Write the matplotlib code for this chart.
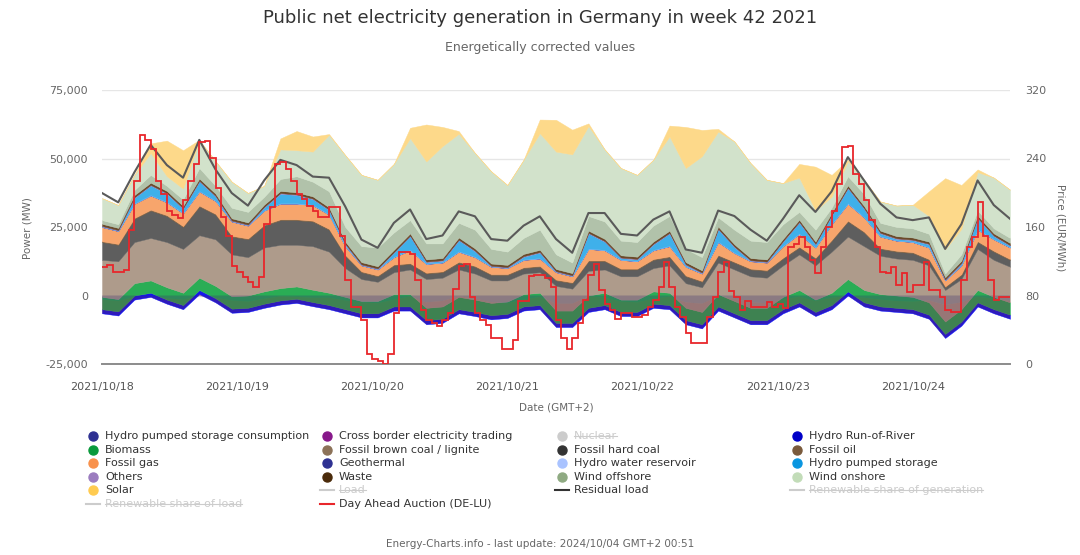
import numpy as np
import matplotlib
matplotlib.use("Agg")
import matplotlib.pyplot as plt
from matplotlib.lines import Line2D

# 3-hourly samples, 2021/10/18 00:00 .. 2021/10/25 00:00 (GMT+2), values in MW
hours = np.arange(0, 169, 3)

pumped_consumption = [
    -1500, -2000, -500, -300, -1000, -1500, -200, -800,
    -1800, -2200, -1200, -300, -500, -800, -800, -1800,
    -2500, -2800, -1500, -300, -2500, -2000, -300, -1000,
    -2500, -2800, -1500, -500, -3000, -3000, -300, -800,
    -2200, -2500, -1200, -400, -2500, -3000, -400, -1200,
    -2500, -2800, -1500, -400, -2000, -800, -200, -800,
    -1500, -2000, -2200, -1800, -3500, -2500, -400, -1200,
    -2000]
cross_border = [
    -5000, -5300, -1000, -200, -2000, -3500, 700, -1700,
    -4500, -3800, -3300, -3000, -2200, -3100, -4200, -4700,
    -5500, -5200, -4000, -5200, -8000, -8000, -6200, -6500,
    -6200, -5400, -4000, -4500, -8500, -8500, -5700, -4200,
    -5300, -5000, -3300, -4600, -8000, -9000, -5100, -6800,
    -8000, -7700, -5000, -3600, -5500, -4200, 200, -3200,
    -4000, -4000, -4300, -6700, -12000, -8500, -3600, -5300,
    -6500]
run_of_river = [
    1500, 1500, 1500, 1500, 1500, 1500, 1500, 1500,
    1500, 1500, 1500, 1500, 1500, 1500, 1500, 1500,
    1500, 1500, 1500, 1500, 1500, 1500, 1500, 1500,
    1500, 1500, 1500, 1500, 1500, 1500, 1500, 1500,
    1500, 1500, 1500, 1500, 1500, 1500, 1500, 1500,
    1500, 1500, 1500, 1500, 1500, 1500, 1500, 1500,
    1500, 1500, 1500, 1500, 1500, 1500, 1500, 1500,
    1500]
biomass = [
    4500, 4500, 4500, 4500, 4500, 4500, 4500, 4500,
    4500, 4500, 4500, 4500, 4500, 4500, 4500, 4500,
    4500, 4500, 4500, 4500, 4500, 4500, 4500, 4500,
    4500, 4500, 4500, 4500, 4500, 4500, 4500, 4500,
    4500, 4500, 4500, 4500, 4500, 4500, 4500, 4500,
    4500, 4500, 4500, 4500, 4500, 4500, 4500, 4500,
    4500, 4500, 4500, 4500, 4500, 4500, 4500, 4500,
    4500]
brown_coal = [
    13500, 13800, 15000, 15500, 16500, 16000, 15500, 17000,
    15300, 14000, 16000, 15800, 15200, 15900, 15000, 10500,
    8000, 7000, 8000, 9000, 10500, 10500, 10000, 9500,
    8200, 7700, 7500, 7500, 9000, 8000, 9000, 8500,
    8500, 8500, 8500, 10000, 9000, 9000, 11500, 11500,
    11500, 11000, 11500, 13000, 12500, 15000, 15500, 16000,
    14000, 13500, 13500, 13500, 11500, 11000, 15000, 13500,
    13000]
hard_coal = [
    6500, 6000, 8500, 10000, 9500, 8000, 10500, 9000,
    6500, 6500, 8000, 9000, 9000, 9000, 8000, 4500,
    2500, 2000, 2500, 2000, 2000, 2000, 2500, 2500,
    2000, 2000, 2000, 2000, 2000, 2000, 3500, 3000,
    2500, 2500, 3000, 3000, 2500, 2000, 2500, 2500,
    2500, 2500, 2500, 2500, 2500, 4000, 5500, 5000,
    2500, 2500, 2500, 2000, 1000, 1500, 2500, 3000,
    2500]
oil = [
    300, 300, 300, 300, 300, 300, 300, 300,
    300, 300, 300, 300, 300, 300, 300, 300,
    300, 300, 300, 300, 300, 300, 300, 300,
    300, 300, 300, 300, 300, 300, 300, 300,
    300, 300, 300, 300, 300, 300, 300, 300,
    300, 300, 300, 300, 300, 300, 300, 300,
    300, 300, 300, 300, 300, 300, 300, 300,
    300]
gas = [
    5200, 4700, 5200, 5200, 4700, 4700, 5200, 4700,
    5200, 4700, 5200, 5700, 5700, 5700, 5200, 3200,
    2200, 2200, 2700, 4700, 3200, 3200, 3700, 3200,
    2700, 2200, 2700, 2700, 2700, 2200, 4200, 3700,
    3200, 2700, 3200, 3700, 3200, 2700, 4700, 3200,
    2700, 2700, 4200, 4700, 3700, 5700, 6200, 5200,
    4200, 3700, 3700, 4200, 2200, 3200, 4200, 4200,
    4200]
geothermal = [
    20, 20, 20, 20, 20, 20, 20, 20,
    20, 20, 20, 20, 20, 20, 20, 20,
    20, 20, 20, 20, 20, 20, 20, 20,
    20, 20, 20, 20, 20, 20, 20, 20,
    20, 20, 20, 20, 20, 20, 20, 20,
    20, 20, 20, 20, 20, 20, 20, 20,
    20, 20, 20, 20, 20, 20, 20, 20,
    20]
water_reservoir = [
    150, 150, 150, 150, 150, 150, 150, 150,
    150, 150, 150, 150, 150, 150, 150, 150,
    150, 150, 150, 150, 150, 150, 150, 150,
    150, 150, 150, 150, 150, 150, 150, 150,
    150, 150, 150, 150, 150, 150, 150, 150,
    150, 150, 150, 150, 150, 150, 150, 150,
    150, 150, 150, 150, 150, 150, 150, 150,
    150]
pumped_storage = [
    0, 0, 2000, 3500, 3000, 1500, 3500, 1500,
    0, 0, 1000, 3500, 3000, 2000, 1500, 500,
    0, 0, 1500, 5000, 500, 500, 4000, 2000,
    0, 0, 1000, 2000, 0, 0, 5500, 3000,
    500, 500, 2000, 4500, 500, 0, 4500, 2000,
    0, 0, 1500, 4000, 1000, 3000, 5500, 3000,
    1000, 500, 500, 1000, 0, 500, 4000, 1000,
    500]
others = [
    200, 200, 200, 200, 200, 200, 200, 200,
    200, 200, 200, 200, 200, 200, 200, 200,
    200, 200, 200, 200, 200, 200, 200, 200,
    200, 200, 200, 200, 200, 200, 200, 200,
    200, 200, 200, 200, 200, 200, 200, 200,
    200, 200, 200, 200, 200, 200, 200, 200,
    200, 200, 200, 200, 200, 200, 200, 200,
    200]
waste = [
    800, 800, 800, 800, 800, 800, 800, 800,
    800, 800, 800, 800, 800, 800, 800, 800,
    800, 800, 800, 800, 800, 800, 800, 800,
    800, 800, 800, 800, 800, 800, 800, 800,
    800, 800, 800, 800, 800, 800, 800, 800,
    800, 800, 800, 800, 800, 800, 800, 800,
    800, 800, 800, 800, 800, 800, 800, 800,
    800]
wind_offshore = [
    1350, 1350, 1850, 2850, 1850, 2350, 3850, 2850,
    3850, 3850, 2850, 4350, 5850, 5350, 5850, 5350,
    5850, 6850, 6350, 4850, 5850, 5350, 5350, 6850,
    5350, 4850, 5850, 7350, 5350, 3850, 5350, 6350,
    5350, 5350, 5850, 5350, 4850, 4850, 3350, 5350,
    6350, 6350, 5350, 2850, 4350, 1850, 3350, 4350,
    2850, 3350, 3350, 2850, 1350, 2350, 1850, 1850,
    1850]
wind_onshore = [
    8000, 7000, 5500, 8000, 3500, 4000, 10000, 9000,
    9500, 6900, 4000, 10800, 9500, 11000, 20600, 26200,
    26000, 24700, 25000, 29900, 29900, 35500, 32500, 28000,
    28300, 24300, 28500, 35200, 37500, 39500, 32800, 26300,
    26500, 24500, 24000, 29000, 29500, 36800, 31300, 32200,
    28300, 22700, 15000, 12500, 7000, 4000, 5500, 5200,
    7800, 7800, 8600, 6500, 8800, 9300, 14000, 18500,
    17600]
solar = [
    0, 0, 0, 3500, 13000, 14000, 300, 0,
    0, 0, 0, 4000, 7000, 5500, 300, 0,
    0, 0, 0, 3800, 13500, 7000, 1000, 0,
    0, 0, 0, 5000, 11600, 9000, 1000, 0,
    0, 0, 0, 4000, 15000, 9600, 1000, 0,
    0, 0, 0, 5000, 16000, 8000, 500, 0,
    0, 0, 0, 9000, 26000, 16000, 1000, 0,
    0]
residual_load = [
    37400, 34000, 45000, 55000, 47600, 43000, 56800, 46000,
    37400, 32800, 42000, 49500, 47600, 43400, 43000, 32500,
    20400, 17400, 26500, 31400, 20600, 21900, 30700, 28900,
    20600, 20000, 25500, 28900, 20600, 15600, 30100, 30100,
    22500, 21900, 27700, 30700, 16800, 15600, 31000, 29000,
    24000, 20000, 28000, 36600, 30500, 38000, 50500, 42000,
    33500, 28500, 27500, 28500, 17000, 26000, 42000, 33000,
    28000]

# day ahead auction, one price per hour, EUR/MWh
day_ahead = [
    113, 116, 108, 108, 110, 156, 214, 267, 262, 251, 214, 199, 179, 174, 170, 191, 214, 234, 259, 261, 241, 205, 172, 150,
    115, 108, 102, 96, 90, 102, 164, 183, 234, 236, 228, 214, 199, 193, 185, 179, 172, 172, 183, 183, 150, 98, 67, 67,
    51, 12, 6, 4, 0, 12, 59, 131, 131, 129, 98, 63, 51, 48, 44, 51, 59, 88, 115, 117, 78, 60, 51, 45,
    30, 30, 18, 18, 28, 74, 74, 103, 104, 104, 100, 90, 51, 30, 18, 30, 48, 75, 104, 117, 86, 70, 63, 53,
    60, 59, 55, 55, 57, 67, 75, 90, 119, 90, 67, 55, 36, 24, 24, 24, 55, 78, 108, 119, 85, 78, 63, 73,
    67, 67, 67, 72, 67, 70, 65, 137, 140, 148, 137, 121, 106, 137, 160, 179, 210, 253, 255, 222, 210, 191, 168, 137,
    108, 106, 113, 92, 106, 84, 92, 92, 119, 86, 86, 78, 63, 61, 61, 98, 137, 148, 189, 150, 98, 75, 78, 78]

date_labels = ["2021/10/18", "2021/10/19", "2021/10/20", "2021/10/21",
               "2021/10/22", "2021/10/23", "2021/10/24"]
power_ticks = [-25000, 0, 25000, 50000, 75000]
price_ticks = [0, 80, 160, 240, 320]

# legend, row by row like the original (label, colour, kind, visible)
legend_items = [
    ("Hydro pumped storage consumption", "#2e3192", "o", True),
    ("Cross border electricity trading", "#87188a", "o", True),
    ("Nuclear", "#cccccc", "o", False),
    ("Hydro Run-of-River", "#0000c8", "o", True),
    ("Biomass", "#0a9a3c", "o", True),
    ("Fossil brown coal / lignite", "#8c7258", "o", True),
    ("Fossil hard coal", "#333333", "o", True),
    ("Fossil oil", "#7a5a3c", "o", True),
    ("Fossil gas", "#f8914c", "o", True),
    ("Geothermal", "#2e3192", "o", True),
    ("Hydro water reservoir", "#a9c3ff", "o", True),
    ("Hydro pumped storage", "#0a96e0", "o", True),
    ("Others", "#9b7cbf", "o", True),
    ("Waste", "#4a2a0a", "o", True),
    ("Wind offshore", "#8faa82", "o", True),
    ("Wind onshore", "#c2dcb8", "o", True),
    ("Solar", "#ffcb50", "o", True),
    ("Load", "#cccccc", "-", False),
    ("Residual load", "#333333", "-", True),
    ("Renewable share of generation", "#cccccc", "-", False),
    ("Renewable share of load", "#cccccc", "-", False),
    ("Day Ahead Auction (DE-LU)", "#e8262b", "-", True),
]

W, H = 1080, 555
fig = plt.figure(figsize=(W / 100, H / 100), dpi=100)
ax = fig.add_axes([102 / W, 1 - 364 / H, 908 / W, 274 / H])

def fx(x):
    return x / W

def fy(y):
    return 1 - y / H

# stacked areas, everything sits on top of the export + pumping sum
layers = [
    (run_of_river, "#1414f0"),
    (biomass, "#2aad55"),
    (brown_coal, "#ae9b8b"),
    (hard_coal, "#5e5e5e"),
    (oil, "#7b5b3a"),
    (gas, "#f7a56c"),
    (geothermal, "#2e3192"),
    (water_reservoir, "#a9c5ff"),
    (pumped_storage, "#3fb0ea"),
    (others, "#a585c8"),
    (waste, "#6b4a2a"),
    (wind_offshore, "#b1c2aa"),
    (wind_onshore, "#d2e2cb"),
    (solar, "#fdd98a"),
]
pc = np.array(pumped_consumption, dtype=float)
base = pc + np.array(cross_border, dtype=float)
lower = base.copy()
for vals, col in layers:
    upper = lower + np.array(vals, dtype=float)
    ax.fill_between(hours, lower, upper, facecolor=col, edgecolor=col, lw=0.3, zorder=2)
    lower = upper

# negative series drawn see-through over the stack
ax.fill_between(hours, 0, pc, facecolor="#3c2f6e", alpha=0.3, lw=0, zorder=3)
ax.fill_between(hours, pc, base, facecolor="#6a2a4a", alpha=0.32, lw=0, zorder=3)

ax.plot(hours, residual_load, color="#5a5a5a", lw=1.5, zorder=4)

ax.set_xlim(0, 168)
ax.set_ylim(-25000, 75000)
ax.set_yticks(power_ticks)
ax.set_yticklabels([f"{v:,}" for v in power_ticks])
# date labels sit a bit wider than a day apart in the original
ax.set_xticks([25 * i for i in range(len(date_labels))])
ax.set_xticklabels(date_labels)
ax.grid(axis="y", color="#e6e6e6", lw=1)
ax.set_axisbelow(True)
for s in ["top", "left", "right"]:
    ax.spines[s].set_visible(False)
ax.spines["bottom"].set_color("#8c8c8c")
ax.spines["bottom"].set_linewidth(1.4)
ax.tick_params(axis="y", length=0, pad=10, labelsize=8, labelcolor="#666666")
ax.tick_params(axis="x", length=0, pad=13, labelsize=8, labelcolor="#555555")

ax2 = ax.twinx()
ax2.stairs(day_ahead, np.arange(len(day_ahead) + 1), baseline=None,
           color="#e8262b", lw=1.3, zorder=5)
ax2.set_ylim(0, 320)
ax2.set_yticks(price_ticks)
ax2.tick_params(axis="y", length=0, pad=11, labelsize=8, labelcolor="#666666")
for s in ax2.spines.values():
    s.set_visible(False)

# titles and axis names
fig.text(0.5, fy(18), "Public net electricity generation in Germany in week 42 2021",
         ha="center", va="center", fontsize=13, color="#333333")
fig.text(0.5, fy(47), "Energetically corrected values",
         ha="center", va="center", fontsize=9, color="#666666")
fig.text(fx(28), fy(228), "Power (MW)", rotation=90, ha="center", va="center",
         fontsize=7.5, color="#666666")
fig.text(fx(1060), fy(228), "Price (EUR/MWh)", rotation=270, ha="center", va="center",
         fontsize=7.5, color="#666666")
fig.text(fx(556), fy(408), "Date (GMT+2)", ha="center", va="center",
         fontsize=7.5, color="#666666")
fig.text(0.5, fy(544), "Energy-Charts.info - last update: 2024/10/04 GMT+2 00:51",
         ha="center", va="center", fontsize=7.5, color="#666666")

# hand made legend, 4 columns
col_x = [93, 327, 562, 797]
row_y = [436, 450, 463, 477, 490, 504]
hidden_texts = []
for k, (label, col, kind, shown) in enumerate(legend_items):
    r, c = divmod(k, 4)
    x, y = col_x[c], row_y[r]
    if kind == "o":
        fig.add_artist(Line2D([fx(x)], [fy(y)], marker="o", ms=6.5, color=col,
                              lw=0, transform=fig.transFigure))
    else:
        fig.add_artist(Line2D([fx(x - 7), fx(x + 7)], [fy(y), fy(y)], color=col,
                              lw=1.5, transform=fig.transFigure))
    t = fig.text(fx(x + 12), fy(y), label, ha="left", va="center", fontsize=8,
                 color="#333333" if shown else "#cccccc")
    if not shown:
        hidden_texts.append(t)

# strike through the hidden series names
fig.canvas.draw()
renderer = fig.canvas.get_renderer()
for t in hidden_texts:
    bb = t.get_window_extent(renderer).transformed(fig.transFigure.inverted())
    ym = (bb.y0 + bb.y1) / 2
    fig.add_artist(Line2D([bb.x0, bb.x1], [ym, ym], color="#cccccc", lw=0.8,
                          transform=fig.transFigure))

fig.savefig("out.png", dpi=100)
